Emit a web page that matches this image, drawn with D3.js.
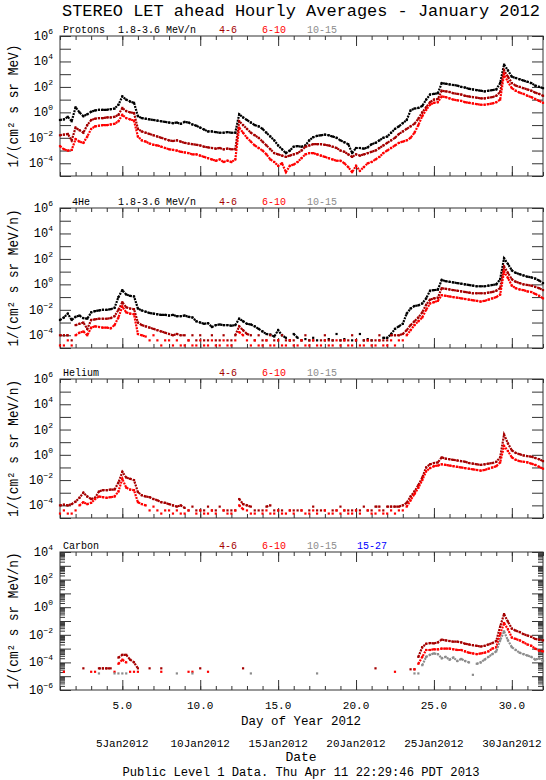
<!DOCTYPE html>
<html>
<head>
<meta charset="utf-8">
<script src="https://cdn.jsdelivr.net/npm/d3@7"></script>
<style>
  body { margin: 0; background: #fff; }
  text { font-family: "Liberation Mono", "DejaVu Sans Mono", monospace; }
</style>
</head>
<body>
<svg id="chart" width="546" height="780"></svg>
<script>
// hourly averages read off the plot, sampled every 6 hours from day 1.00 to 32.00
// values are log10 of the flux, null where no point is drawn
const days = d3.range(125).map(i => 1 + i / 4);

const protons18 = [
  -0.6, -0.55, -0.35, -0.7,   0.4, 0.0, -0.3, -0.15,   0.05, 0.15, 0.2, 0.2,   0.2, 0.25, 0.3, 0.6,
  1.25, 1.0, 0.85, 0.75,   -0.3, -0.45, -0.5, -0.55,   -0.6, -0.65, -0.7, -0.75,   -0.8, -0.85, -0.8, -0.9,
  -0.75, -0.8, -0.95, -1.05,   -1.2, -1.35, -1.5, -1.5,   -1.55, -1.6, -1.6, -1.55,   -1.6, -1.6, -0.15, -0.4,
  -0.6, -0.8, -1.0, -1.1,   -1.3, -1.6, -1.9, -2.2,   -2.6, -2.9, -3.2, -3.0,   -2.7, -2.65, -2.7, -2.6,
  -2.2, -1.95, -1.85, -1.8,   -1.75, -1.8, -1.9, -2.0,   -2.2, -2.35, -2.5, -3.2,   -2.8, -2.8, -2.85, -2.75,
  -2.5, -2.4, -2.2, -2.0,   -1.9, -1.6, -1.3, -1.1,   -0.85, -0.6, 0.15, 0.3,   0.35, 0.5, 1.0, 1.4,
  1.45, 1.5, 2.3, 2.25,   2.2, 2.15, 2.1, 2.0,   1.95, 1.85, 1.8, 1.75,   1.7, 1.65, 1.7, 1.75,
  1.8, 2.3, 3.75, 3.3,   2.8, 2.7, 2.6, 2.5,   2.4, 2.3, 2.1, 2.0,   1.9
];
const protons46 = [
  -1.8, -1.75, -1.7, -2.2,   -1.2, -1.4, -1.6, -1.0,   -0.6, -0.5, -0.45, -0.45,   -0.4, -0.4, -0.35, -0.2,
  0.35, 0.1, 0.0, -0.05,   -1.3, -1.5, -1.6, -1.7,   -1.8, -1.9, -2.0, -2.1,   -2.2, -2.25, -2.2, -2.3,
  -2.4, -2.45, -2.5, -2.55,   -2.6, -2.7, -2.75, -2.8,   -2.85, -2.8, -2.9, -2.85,   -2.9, -2.9, -0.7, -1.0,
  -1.3, -1.6, -1.8, -2.0,   -2.3, -2.6, -2.9, -3.2,   -3.3, -3.4, -3.5, -3.4,   -3.3, -3.2, -3.0, -2.7,
  -2.6, -2.5, -2.5, -2.5,   -2.55, -2.6, -2.7, -2.8,   -3.0, -3.1, -3.3, -3.5,   -3.3, -3.4, -3.3, -3.2,
  -3.1, -3.0, -2.8, -2.6,   -2.4, -2.2, -2.0, -1.7,   -1.5, -1.3, -1.1, -0.9,   -0.5, 0.0, 0.4, 0.8,
  1.0, 1.05, 1.7, 1.65,   1.6, 1.5, 1.45, 1.4,   1.3, 1.25, 1.2, 1.15,   1.1, 1.1, 1.15, 1.2,
  1.3, 1.6, 3.3, 2.8,   2.3, 2.1, 2.0, 1.9,   1.8, 1.7, 1.55, 1.45,   1.3
];
const protons610 = [
  -2.65, -2.9, -3.0, -2.95,   -2.1, -2.3, -2.4, -1.9,   -1.3, -1.1, -1.05, -1.0,   -1.0, -0.95, -0.9, -0.7,
  -0.2, -0.45, -0.55, -0.65,   -1.9, -2.2, -2.3, -2.45,   -2.55, -2.6, -2.7, -2.8,   -2.9, -2.95, -3.0, -3.1,
  -3.15, -3.2, -3.3, -3.3,   -3.4, -3.5, -3.6, -3.7,   -3.8, -3.7, -3.9, -3.8,   -3.9, -3.7, -1.2, -1.6,
  -2.0, -2.3, -2.6, -2.8,   -3.0, -3.3, -3.7, -3.9,   -4.2, -4.0, -4.7, -4.2,   -4.1, -3.9, -3.6, -3.3,
  -3.2, -3.2, -3.3, -3.4,   -3.5, -3.6, -3.7, -3.8,   -3.8, -4.0, -4.3, -4.7,   -4.2, -4.6, -4.3, -4.0,
  -3.9, -3.7, -3.5, -3.2,   -3.0, -2.8, -2.6, -2.4,   -2.3, -2.2, -2.0, -1.6,   -1.0, -0.3, 0.2, 0.6,
  0.75, 0.8, 1.25, 1.2,   1.1, 1.0, 0.95, 0.9,   0.8, 0.75, 0.7, 0.65,   0.6, 0.6, 0.65, 0.7,
  0.8, 1.0, 3.0, 2.4,   1.9, 1.7, 1.55, 1.45,   1.3, 1.2, 1.05, 0.9,   0.75
];

const he4_18 = [
  -2.8, -2.6, -2.3, -2.8,   -2.55, -2.45, -2.65, -2.7,   -2.2, -2.1, -2.05, -2.0,   -2.0, -1.95, -1.85, -1.0,
  -0.45, -0.8, -0.9, -0.95,   -1.9, -2.05, -2.15, -2.25,   -2.3, -2.35, -2.4, -2.4,   -2.45, -2.4, -2.5, -2.5,
  -2.45, -2.55, -2.6, -2.9,   -3.0, -3.1, -3.05, -3.35,   -3.2, -3.15, -3.2, -3.2,   -3.25, -3.2, -2.7, -2.9,
  -3.1, -3.15, -3.3, -3.5,   -3.7, -3.9, -3.95, -4.1,   -3.6, -4.0, -4.2, -4.4,   -3.9, -4.2, -4.4, -4.3,
  -4.4, -4.2, -4.4, null,   -4.4, -4.3, -4.4, -3.9,   -4.4, -4.3, null, -4.4,   -4.4, -3.9, -4.4, -4.3,
  -4.4, null, -4.4, -4.2,   -4.2, -3.9, -3.5, -3.3,   -3.1, -2.3, -1.9, -1.7,   -1.65, -1.5, -1.1, -0.5,
  -0.45, -0.42, 0.35, 0.25,   0.2, 0.15, 0.1, 0.05,   0.0, -0.05, -0.1, -0.15,   -0.15, -0.15, -0.1, -0.05,
  0.0, 0.4, 2.05, 1.6,   1.1, 0.9, 0.8, 0.7,   0.6, 0.55, 0.45, 0.3,   0.1
];
const he4_46 = [
  -4.0, -4.0, -4.0, -4.4,   -3.2, -3.1, -3.0, -3.5,   -2.8, -2.75, -2.7, -2.7,   -2.7, -2.65, -2.5, -2.0,
  -1.4, -1.8, -1.9, -1.95,   -3.0, -3.2, -3.3, -3.4,   -3.5, -3.6, -3.7, -3.8,   -3.9, -4.0, -3.9, -4.0,
  -4.0, -4.4, -4.0, -4.4,   -4.0, -4.4, -4.4, -4.0,   -4.4, -4.4, -4.0, -4.4,   -4.4, -4.0, -3.3, -3.6,
  -3.9, -4.0, -4.4, -4.0,   -4.4, -4.4, -4.0, -4.4,   -4.4, -4.0, -4.4, -4.4,   -4.4, null, -4.4, -4.0,
  -4.4, -4.4, null, -4.4,   -4.0, -4.4, -4.4, null,   -4.4, -4.4, -4.4, -4.0,   -4.4, null, -4.4, -4.4,
  -4.4, -4.4, -4.0, -4.4,   -4.4, -4.0, -4.0, -4.0,   -3.9, -3.6, -3.2, -2.9,   -2.6, -2.2, -1.6, -1.2,
  -1.1, -1.05, -0.3, -0.35,   -0.4, -0.45, -0.5, -0.55,   -0.6, -0.65, -0.7, -0.7,   -0.7, -0.7, -0.65, -0.6,
  -0.5, -0.3, 1.4, 0.9,   0.4, 0.2, 0.1, 0.0,   -0.05, -0.1, -0.2, -0.3,   -0.45
];
const he4_610 = [
  -4.8, -4.8, -4.4, -4.8,   -4.0, -3.8, -3.7, -4.0,   -3.4, -3.3, -3.35, -3.4,   -3.4, -3.45, -3.2, -2.6,
  -1.75, -2.2, -2.3, -2.35,   -3.9, -4.0, -4.1, -4.4,   -4.0, -4.4, -4.8, -4.4,   -4.4, -4.8, -4.4, -4.8,
  -4.8, -4.4, -4.8, -4.8,   -4.4, -4.8, -4.8, -4.4,   -4.8, -4.8, -4.4, -4.8,   -4.8, -4.4, -3.75, -4.0,
  -4.4, -4.8, -4.4, -4.8,   -4.8, -4.4, -4.8, -4.8,   -4.4, -4.8, -4.8, -4.4,   -4.8, -4.8, -4.4, -4.8,
  -4.8, -4.4, -4.8, -4.8,   -4.4, -4.8, -4.8, -4.4,   -4.8, -4.4, -4.8, -4.8,   -4.4, -4.8, -4.8, -4.4,
  -4.8, -4.8, -4.4, -4.8,   -4.8, -4.4, -4.8, -4.4,   -4.4, -4.0, -3.6, -3.2,   -2.9, -2.6, -2.0, -1.5,
  -1.4, -1.3, -0.85, -0.9,   -0.95, -1.0, -1.05, -1.1,   -1.15, -1.2, -1.25, -1.3,   -1.35, -1.3, -1.2, -1.1,
  -1.0, -0.8, 1.0, 0.5,   -0.1, -0.3, -0.4, -0.45,   -0.55, -0.6, -0.75, -0.9,   -1.1
];

const helium46 = [
  -4.0, -3.95, -4.0, -3.9,   -3.7, -3.4, -3.0, -3.3,   -3.5, -3.4, -2.9, -2.8,   -2.8, -2.75, -2.75, -2.2,
  -1.35, -1.8, -1.9, -2.0,   -2.95, -3.2, -3.3, -3.35,   -3.5, -3.6, -3.75, -3.8,   -3.9, -4.0, -4.1, -4.0,
  -4.2, -4.4, -4.1, -4.4,   -4.4, -4.4, -4.1, -4.4,   -4.4, -4.1, -4.4, -4.4,   -4.4, -4.4, -3.5, -3.9,
  -4.0, -4.1, -4.4, -4.4,   -4.4, -4.1, -4.0, -4.4,   -4.4, -4.4, null, -4.4,   -4.4, -4.4, -4.4, null,
  -4.4, -4.1, -4.4, -4.4,   -4.4, null, -4.4, -4.4,   -4.1, -4.4, -4.4, -4.4,   -4.4, -4.4, -4.1, -4.4,
  -4.4, -4.1, -4.1, -4.4,   -4.1, -4.1, -4.1, -4.1,   -4.0, -3.8, -3.3, -2.9,   -2.4, -1.8, -1.0, -0.75,
  -0.65, -0.6, -0.2, -0.3,   -0.35, -0.4, -0.45, -0.5,   -0.55, -0.65, -0.7, -0.75,   -0.8, -0.75, -0.7, -0.65,
  -0.55, -0.2, 1.6, 0.9,   0.35, 0.15, 0.05, -0.05,   -0.1, -0.15, -0.25, -0.35,   -0.5
];
const helium610 = [
  -4.65, -4.4, -4.65, -4.65,   -4.4, -4.0, -3.75, -3.9,   -3.8, -3.5, -3.3, -3.35,   -3.4, -3.35, -3.3, -2.9,
  -1.9, -2.6, -2.75, -2.8,   -3.75, -3.9, -4.0, -4.4,   -4.1, -4.4, -4.65, -4.4,   -4.4, -4.65, -4.4, -4.65,
  -4.65, -4.4, null, -4.65,   -4.4, -4.65, -4.65, -4.4,   -4.65, null, -4.4, -4.65,   -4.65, -4.4, -4.0, -4.3,
  -4.4, -4.65, -4.65, null,   -4.65, -4.4, -4.65, -4.65,   -4.4, -4.65, -4.65, -4.4,   -4.65, null, -4.4, -4.65,
  -4.65, -4.4, -4.65, null,   -4.4, -4.65, -4.65, -4.4,   -4.65, -4.4, -4.65, -4.65,   -4.4, -4.65, null, -4.4,
  -4.65, -4.65, -4.4, -4.65,   -4.65, -4.4, -4.65, -4.4,   -4.4, -4.1, -3.6, -3.1,   -2.6, -2.0, -1.3, -1.05,
  -0.9, -0.85, -0.75, -0.8,   -0.85, -0.9, -0.95, -1.0,   -1.05, -1.1, -1.15, -1.2,   -1.25, -1.2, -1.1, -1.0,
  -0.9, -0.6, 0.7, 0.3,   -0.2, -0.4, -0.5, -0.55,   -0.6, -0.7, -0.8, -0.95,   -1.1
];

const carbon46 = [
  null, null, null, null,   null, null, -4.43, null,   null, null, -4.43, -4.43,   -4.43, -4.43, null, -3.65,
  -3.45, -3.45, -3.8, -4.0,   -4.43, null, null, -4.43,   null, null, -4.43, null,   null, null, null, null,
  null, null, null, null,   -4.43, null, null, null,   null, null, null, null,   null, null, null, -4.43,
  null, null, null, null,   null, null, null, null,   null, null, null, null,   null, null, null, null,
  null, null, null, null,   null, null, null, null,   null, null, null, null,   null, null, null, null,
  null, -4.43, null, null,   null, null, null, null,   null, null, -4.5, -4.5,   -3.6, -2.9, -2.65, -2.6,
  -2.62, -2.55, -2.35, -2.4,   -2.45, -2.5, -2.5, -2.55,   -2.65, -2.7, -2.75, -2.8,   -2.85, -2.8, -2.7, -2.6,
  -2.45, -1.4, -0.5, -1.05,   -1.55, -1.7, -1.8, -1.95,   -2.05, -2.15, -2.3, -2.35,   -2.4
];
const carbon610 = [
  null, -4.68, null, null,   null, null, null, null,   -4.68, -4.68, null, null,   null, null, -4.68, -4.1,
  -3.8, -4.0, -4.68, -4.68,   -4.68, null, null, null,   null, null, -4.68, null,   null, null, null, null,
  null, -4.68, -4.68, null,   null, null, -4.68, null,   null, null, null, null,   null, null, null, null,
  null, null, null, null,   null, null, null, null,   null, null, null, null,   null, null, null, null,
  null, null, null, null,   null, null, null, null,   null, null, null, null,   null, null, null, null,
  null, null, null, null,   null, null, -4.68, null,   null, null, null, -4.5,   -4.1, -3.6, -3.1, -3.1,
  -3.05, -3.05, -3.0, -3.0,   -3.0, -3.05, -3.1, -3.1,   -3.2, -3.3, -3.35, -3.4,   -3.35, -3.3, -3.2, -3.0,
  -2.9, -1.95, -1.15, -1.6,   -2.2, -2.3, -2.4, -2.55,   -2.7, -2.8, -3.0, -3.15,   -3.2
];
const carbon1015 = [
  null, null, null, null,   null, null, null, null,   null, null, -4.8, null,   null, null, -4.8, -4.8,
  -4.8, -4.8, null, null,   null, null, null, null,   null, null, null, null,   null, null, -4.8, null,
  null, null, -4.8, null,   null, null, null, null,   null, null, null, null,   null, null, null, null,
  null, -4.8, null, null,   null, null, null, null,   null, null, null, null,   null, null, null, null,
  null, null, -4.8, null,   null, null, null, null,   null, null, null, null,   null, null, null, null,
  null, null, null, null,   null, null, null, null,   null, null, null, -4.8,   -4.8, -4.2, -3.6, -3.45,
  -3.35, -3.4, -3.7, -3.6,   -3.8, -3.65, -3.9, -3.75,   -3.9, -4.0, -4.9, -4.1,   -4.0, -3.8, -3.6, -3.4,
  -3.2, -2.4, -1.75, -2.4,   -2.9, -3.1, -3.3, -3.4,   -3.5, -3.6, -3.8, -3.7,   -3.9
];

const energyLabels = ["1.8-3.6 MeV/n", "4-6", "6-10", "10-15", "15-27"];
const dayTicks = [5, 10, 15, 20, 25, 30];
const dateLabels = ["5Jan2012", "10Jan2012", "15Jan2012", "20Jan2012", "25Jan2012", "30Jan2012"];

const colors = { low: "#000000", mid: "#a50000", high: "#ff0000", gray: "#8c8c8c", blue: "#0000ff" };

// floor: counting-statistics level below which hourly points are shown as loose dots
const panels = [
  { name: "Protons", nameX: 63, top: 36, bottom: 176, lo: -5, hi: 6, floor: -9, unit: "1/(cm² s sr MeV)", labels: [0, 1, 2, 3],
    series: [[protons18, colors.low], [protons46, colors.mid], [protons610, colors.high]] },
  { name: "4He", nameX: 72, top: 208, bottom: 348, lo: -5, hi: 6, floor: -4.35, unit: "1/(cm² s sr MeV/n)", labels: [0, 1, 2, 3],
    series: [[he4_18, colors.low], [he4_46, colors.mid], [he4_610, colors.high]] },
  { name: "Helium", nameX: 63, top: 379, bottom: 518, lo: -5, hi: 6, floor: -4.35, unit: "1/(cm² s sr MeV/n)", labels: [1, 2, 3],
    series: [[helium46, colors.mid], [helium610, colors.high]] },
  { name: "Carbon", nameX: 63, top: 552, bottom: 690, lo: -6, hi: 4, floor: -4.45, unit: "1/(cm² s sr MeV/n)", labels: [1, 2, 3, 4], minor: true,
    series: [[carbon46, colors.mid], [carbon610, colors.high], [carbon1015, colors.gray]] }
];
const labelX = [118, 219, 262, 307, 357];
const labelColors = [colors.low, colors.mid, colors.high, colors.gray, colors.blue];

const svg = d3.select("#chart");
const left = 60, right = 543;
const x = d3.scaleLinear().domain([1, 32]).range([left, right]);

svg.append("text")
  .attr("x", 301).attr("y", 16)
  .attr("text-anchor", "middle")
  .attr("font-size", 16)
  .attr("textLength", 478).attr("lengthAdjust", "spacingAndGlyphs")
  .text("STEREO LET ahead Hourly Averages - January 2012");

const allDays = d3.range(1, 33);
const strip = s => s.select(".domain").remove();

panels.forEach(p => {
  const y = d3.scaleLog().domain([Math.pow(10, p.lo), Math.pow(10, p.hi)]).range([p.bottom, p.top]);
  const g = svg.append("g").attr("color", "#333");
  const decades = d3.range(p.lo, p.hi + 1).map(e => Math.pow(10, e));

  g.append("g").attr("transform", `translate(${left},0)`)
    .call(d3.axisLeft(y).tickValues(decades).tickSize(-11).tickFormat("")).call(strip);
  g.append("g").attr("transform", `translate(${right},0)`)
    .call(d3.axisRight(y).tickValues(decades).tickSize(-11).tickFormat("")).call(strip);
  if (p.minor) {
    const subs = [];
    d3.range(p.lo, p.hi).forEach(e => d3.range(2, 10).forEach(k => subs.push(k * Math.pow(10, e))));
    g.append("g").attr("transform", `translate(${left},0)`)
      .call(d3.axisLeft(y).tickValues(subs).tickSize(-5).tickFormat("")).call(strip);
    g.append("g").attr("transform", `translate(${right},0)`)
      .call(d3.axisRight(y).tickValues(subs).tickSize(-5).tickFormat("")).call(strip);
  }
  g.append("g").attr("transform", `translate(0,${p.bottom})`)
    .call(d3.axisBottom(x).tickValues(allDays).tickSize(-4).tickFormat("")).call(strip);
  g.append("g").attr("transform", `translate(0,${p.bottom})`)
    .call(d3.axisBottom(x).tickValues(dayTicks).tickSize(-10).tickFormat("")).call(strip);
  g.append("g").attr("transform", `translate(0,${p.top})`)
    .call(d3.axisTop(x).tickValues(allDays).tickSize(-4).tickFormat("")).call(strip);
  g.append("g").attr("transform", `translate(0,${p.top})`)
    .call(d3.axisTop(x).tickValues(dayTicks).tickSize(-10).tickFormat("")).call(strip);

  g.append("rect")
    .attr("x", left).attr("y", p.top)
    .attr("width", right - left).attr("height", p.bottom - p.top)
    .attr("fill", "none").attr("stroke", "#333").attr("stroke-width", 1);

  // decade labels 10^n on even exponents
  decades.filter((d, i) => (p.lo + i) % 2 === 0).forEach(d => {
    const e = Math.round(Math.log10(d));
    const t = svg.append("text")
      .attr("x", 53).attr("y", y(d) + 4)
      .attr("text-anchor", "end").attr("font-size", 12);
    t.append("tspan").text("10");
    t.append("tspan").attr("dy", -6).attr("font-size", 8).text(String(e).replace("-", "−"));
  });

  svg.append("text")
    .attr("transform", `translate(18,${(p.top + p.bottom) / 2}) rotate(-90)`)
    .attr("text-anchor", "middle").attr("font-size", 14)
    .attr("textLength", p.unit.length > 16 ? 137 : 123).attr("lengthAdjust", "spacingAndGlyphs")
    .text(p.unit);

  // panel header: species name and channel legend
  svg.append("text").attr("x", p.nameX).attr("y", p.top - 3).attr("font-size", 10).text(p.name);
  p.labels.forEach(k => {
    svg.append("text").attr("x", labelX[k]).attr("y", p.top - 3)
      .attr("font-size", 10).attr("fill", labelColors[k]).text(energyLabels[k]);
  });

  const line = d3.line().x(o => x(o.d)).y(o => y(Math.pow(10, o.v)));
  p.series.forEach(([vals, col]) => {
    const pts = vals.map((v, i) => ({ d: days[i], v })).filter(o => o.v !== null);
    // runs of consecutive hours above the counting floor look like a dense dotted band
    const runs = [];
    let cur = [];
    vals.forEach((v, i) => {
      if (v === null || v <= p.floor) {
        if (cur.length > 1) runs.push(cur);
        cur = [];
      } else {
        cur.push({ d: days[i], v });
      }
    });
    if (cur.length > 1) runs.push(cur);

    const sg = svg.append("g");
    sg.selectAll("path").data(runs).enter().append("path")
      .attr("d", line)
      .attr("fill", "none").attr("stroke", col)
      .attr("stroke-width", 2.2).attr("stroke-dasharray", "2 1");
    sg.selectAll("rect").data(pts).enter().append("rect")
      .attr("x", o => x(o.d) - 1.1)
      .attr("y", o => y(Math.pow(10, o.v)) - 1.1)
      .attr("width", 2.2).attr("height", 2.2)
      .attr("fill", col);
  });
});

// bottom axis texts
dayTicks.forEach((d, i) => {
  svg.append("text").attr("x", x(d)).attr("y", 709)
    .attr("text-anchor", "middle").attr("font-size", 11).text(d.toFixed(1));
  svg.append("text").attr("x", x(d)).attr("y", 747)
    .attr("text-anchor", "middle").attr("font-size", 11).text(dateLabels[i]);
});
svg.append("text").attr("x", 301).attr("y", 725)
  .attr("text-anchor", "middle").attr("font-size", 13)
  .attr("textLength", 120).attr("lengthAdjust", "spacingAndGlyphs")
  .text("Day of Year 2012");
svg.append("text").attr("x", 301).attr("y", 761)
  .attr("text-anchor", "middle").attr("font-size", 13).text("Date");
svg.append("text").attr("x", 301).attr("y", 776)
  .attr("text-anchor", "middle").attr("font-size", 12)
  .attr("textLength", 357).attr("lengthAdjust", "spacingAndGlyphs")
  .text("Public Level 1 Data. Thu Apr 11 22:29:46 PDT 2013");
</script>
</body>
</html>
